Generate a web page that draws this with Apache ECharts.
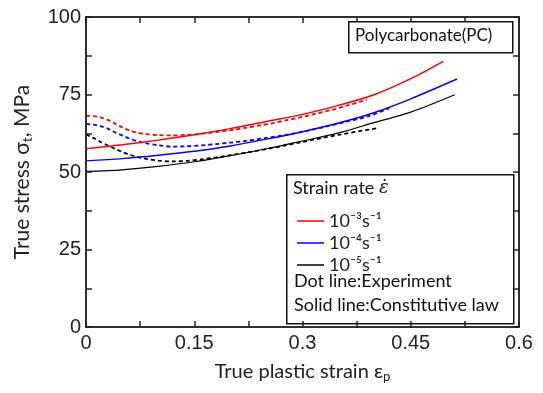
<!DOCTYPE html>
<html>
<head>
<meta charset="utf-8">
<script src="https://cdn.jsdelivr.net/npm/echarts@6/dist/echarts.min.js"></script>
<style>
  html, body { margin: 0; padding: 0; background: #fff; }
  #chart { width: 543px; height: 393px; }
</style>
</head>
<body>
<div id="chart"></div>
<script>
// true plastic strain vs true stress (MPa)
const rate3Model = [[0,57.5],[0.05,58.8],[0.1,60.3],[0.15,62],[0.2,64],[0.25,66.3],[0.3,68.6],[0.35,71.5],[0.4,75],[0.45,80.1],[0.495,85.7]];
const rate4Model = [[0,53.6],[0.05,54.3],[0.1,55.4],[0.15,56.7],[0.2,58.4],[0.25,60.6],[0.3,63],[0.35,65.8],[0.4,69.2],[0.45,73.6],[0.514,80]];
const rate5Model = [[0,50.2],[0.05,50.7],[0.1,51.8],[0.15,53.3],[0.2,55.3],[0.25,57.5],[0.3,60],[0.35,62.6],[0.4,66],[0.45,69.3],[0.511,74.9]];

const rate3Exp = [[0,68.2],[0.01,68],[0.02,67.6],[0.03,66.8],[0.04,65.6],[0.05,64.4],[0.06,63.4],[0.07,62.7],[0.08,62.3],[0.1,61.9],[0.12,61.8],[0.14,62],[0.16,62.3],[0.18,62.9],[0.2,63.5],[0.22,64.2],[0.24,65],[0.26,65.8],[0.28,66.8],[0.3,67.8],[0.32,68.9],[0.34,70],[0.36,71.3],[0.38,72.7],[0.389,73.4]];
const rate4Exp = [[0,65.5],[0.01,65.3],[0.02,64.8],[0.03,64],[0.04,62.8],[0.05,61.8],[0.06,60.8],[0.07,60],[0.08,59.4],[0.1,58.6],[0.12,58.2],[0.14,58.3],[0.16,58.6],[0.18,59],[0.2,59.5],[0.22,60],[0.25,61],[0.28,62.1],[0.3,63],[0.33,64.5],[0.36,66.2],[0.39,67.9],[0.42,70.6]];
const rate5Exp = [[0,62.1],[0.01,61],[0.02,59.7],[0.03,58.6],[0.04,57.5],[0.05,56.5],[0.06,55.6],[0.07,54.9],[0.08,54.4],[0.1,53.7],[0.12,53.4],[0.14,53.6],[0.16,54.1],[0.18,54.7],[0.2,55.4],[0.25,57.4],[0.3,59.7],[0.35,62],[0.403,64.1]];

const rateNames = ['10⁻³s⁻¹', '10⁻⁴s⁻¹', '10⁻⁵s⁻¹'];
const rateColors = ['#ff0000', '#0000ff', '#000000'];

const textFont = 'Lato';
const tickFont = 'Liberation Sans';

const chart = echarts.init(document.getElementById('chart'));

// fresh copy for every axis so nothing is shared between them
function frameAxis(extra) {
  return Object.assign({
    axisLine: { show: true, onZero: false, lineStyle: { color: '#222', width: 1.5 } },
    axisTick: { show: true, inside: true, length: 6, lineStyle: { color: '#222', width: 1.5 } },
    minorTick: { show: true, splitNumber: 2, length: 6, lineStyle: { color: '#222', width: 1.5 } },
    splitLine: { show: false },
    minorSplitLine: { show: false },
    z: 5
  }, extra);
}

const modelSeries = [rate3Model, rate4Model, rate5Model].map((d, i) => ({
  name: rateNames[i],
  type: 'line',
  data: d,
  smooth: 0.3,
  showSymbol: false,
  lineStyle: { color: rateColors[i], width: i === 2 ? 1.2 : 1.4 },
  itemStyle: { color: rateColors[i] },
  z: 3
}));

const expSeries = [rate3Exp, rate4Exp, rate5Exp].map((d, i) => ({
  name: 'exp' + i,
  type: 'line',
  data: d,
  smooth: 0.3,
  showSymbol: false,
  lineStyle: { color: rateColors[i], width: 1.8, type: [4, 3] },
  z: 2
}));

chart.setOption({
  animation: false,
  backgroundColor: '#fff',
  grid: { left: 86, right: 24, top: 17, bottom: 66, show: true, borderColor: '#222', borderWidth: 1.5, backgroundColor: 'transparent' },
  xAxis: [
    frameAxis({
      type: 'value', min: 0, max: 0.6, interval: 0.15, position: 'bottom',
      name: 'True plastic strain ε{sub|p}',
      nameLocation: 'middle', nameGap: 33,
      nameTextStyle: { fontFamily: textFont, fontSize: 20, color: '#222',
        rich: { sub: { fontFamily: textFont, fontSize: 13, padding: [10, 0, 0, 0], color: '#222' } } },
      axisLabel: { fontFamily: tickFont, fontSize: 20, color: '#222', margin: 6 }
    }),
    frameAxis({
      type: 'value', min: 0, max: 0.6, interval: 0.15, position: 'top',
      axisLabel: { show: false }
    })
  ],
  yAxis: [
    frameAxis({
      type: 'value', min: 0, max: 100, interval: 25, position: 'left',
      name: 'True stress σ{sub|t}, MPa',
      nameLocation: 'middle', nameGap: 52,
      nameTextStyle: { fontFamily: textFont, fontSize: 21, color: '#222',
        rich: { sub: { fontFamily: textFont, fontSize: 14, padding: [10, 0, 0, 0], color: '#222' } } },
      axisLabel: { fontFamily: tickFont, fontSize: 20, color: '#222', margin: 5 }
    }),
    frameAxis({
      type: 'value', min: 0, max: 100, interval: 25, position: 'right',
      axisLabel: { show: false }
    })
  ],
  legend: {
    data: rateNames,
    orient: 'vertical',
    left: 292,
    top: 207,
    itemWidth: 27,
    itemHeight: 1.5,
    itemGap: 4,
    icon: 'rect',
    textStyle: { fontFamily: textFont, fontSize: 18, color: '#222', lineHeight: 18 },
    selectedMode: false,
    z: 12
  },
  graphic: [
    {
      type: 'rect', left: 348, top: 21, z: 10,
      shape: { width: 164, height: 31 },
      style: { fill: '#fff', stroke: '#111', lineWidth: 1.5 }
    },
    {
      type: 'text', left: 355, top: 27, z: 11,
      style: { text: 'Polycarbonate(PC)', font: '17px ' + textFont, fill: '#111' }
    },
    {
      type: 'rect', left: 286, top: 174, z: 1,
      shape: { width: 227, height: 149 },
      style: { fill: '#fff', stroke: '#111', lineWidth: 1.5 }
    },
    {
      type: 'text', left: 293, top: 179, z: 11,
      style: {
        text: '{a|Strain rate }{e|ε̇}',
        rich: {
          a: { fontFamily: textFont, fontSize: 18, fill: '#111' },
          e: { fontFamily: 'DejaVu Serif', fontStyle: 'italic', fontSize: 18, fill: '#111' }
        }
      }
    },
    {
      type: 'text', left: 294, top: 272, z: 11,
      style: { text: 'Dot line:Experiment', font: '18px ' + textFont, fill: '#111' }
    },
    {
      type: 'text', left: 294, top: 296, z: 11,
      style: { text: 'Solid line:Constitutive law', font: '18px ' + textFont, fill: '#111' }
    }
  ],
  series: expSeries.concat(modelSeries)
});

window.addEventListener('resize', () => chart.resize());
</script>
</body>
</html>
